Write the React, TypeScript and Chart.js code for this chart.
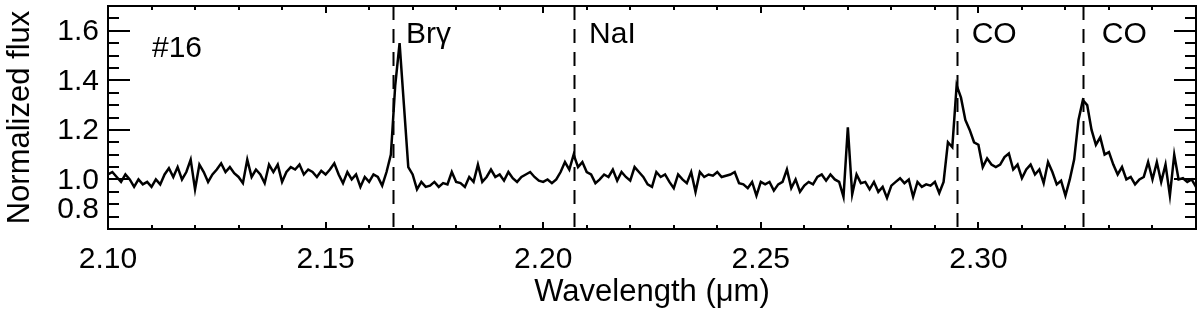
import React, { useEffect, useRef } from "react";
import { Chart, registerables } from "chart.js";

Chart.register(...registerables);

// ---- data ----
const WAVELENGTH_START = 2.1; // µm
const WAVELENGTH_STEP = 0.001; // µm per sample
const FLUX = [
  1.02, 1.03, 1.01, 0.99, 1.02, 1.0, 0.97, 1.0, 0.98, 0.99,
  0.97, 1.0, 0.98, 1.02, 1.045, 1.01, 1.05, 1.0, 1.03, 1.08,
  0.96, 1.06, 1.03, 0.99, 1.02, 1.04, 1.065, 1.03, 1.05, 1.025,
  1.01, 0.985, 1.08, 1.01, 1.04, 1.02, 0.985, 1.06, 1.03, 1.06,
  0.99, 1.03, 1.05, 1.04, 1.06, 1.02, 1.04, 1.03, 1.01, 1.035,
  1.02, 1.04, 1.065, 1.02, 0.985, 1.03, 1.0, 1.02, 0.97, 1.01,
  0.99, 1.02, 1.01, 0.975, 1.03, 1.1, 1.38, 1.55, 1.3, 1.05,
  1.02, 0.96, 0.99, 0.97, 0.975, 0.99, 0.97, 0.985, 0.98, 1.03,
  0.99, 0.985, 0.97, 1.01, 0.99, 1.06, 0.99, 1.01, 1.04, 1.01,
  1.02, 0.995, 1.03, 1.005, 0.99, 1.01, 1.02, 1.03, 1.01, 0.995,
  0.99, 1.0, 0.985, 1.0, 1.03, 1.07, 1.04, 1.1, 1.05, 1.07,
  1.03, 1.02, 0.985, 1.0, 1.02, 1.01, 1.04, 0.995, 1.03, 1.01,
  0.995, 1.05, 1.03, 1.01, 0.98, 0.97, 1.03, 1.01, 1.02, 0.99,
  0.965, 1.02, 1.0, 0.985, 1.03, 0.95, 1.03, 1.01, 1.02, 1.015,
  1.03, 1.01, 1.015, 1.02, 1.03, 0.985, 0.98, 0.965, 0.99, 0.935,
  0.99, 0.98, 0.99, 0.955, 0.98, 0.99, 1.04, 0.965, 1.0, 0.95,
  0.975, 0.99, 0.98, 1.01, 1.02, 0.995, 1.02, 1.0, 0.99, 0.93,
  1.21, 0.94, 1.02, 0.985, 0.99, 0.96, 0.99, 0.95, 0.97, 0.925,
  0.975, 0.99, 1.005, 0.985, 1.0, 0.93, 0.99, 0.97, 0.98, 0.975,
  0.99, 0.945, 0.99, 1.15, 1.13, 1.38, 1.33, 1.24, 1.2, 1.15,
  1.14, 1.05, 1.085, 1.06, 1.05, 1.06, 1.09, 1.105, 1.04, 1.06,
  1.005, 1.04, 1.06, 1.02, 1.04, 0.985, 1.07, 1.03, 0.98, 0.995,
  0.935, 1.0, 1.08, 1.24, 1.32, 1.3, 1.2, 1.14, 1.17, 1.1,
  1.11, 1.06, 1.02, 1.05, 1.0, 1.01, 0.98, 1.0, 1.01, 1.07,
  1.0, 1.07, 0.99, 1.06, 0.935, 1.1, 1.0, 1.005, 0.99, 1.0,
  0.97,
];

const X_MIN = 2.1;
const X_MAX = 2.35;
const Y_MIN = 0.8;
const Y_MAX = 1.7;
const X_TICK_LABELS = ["2.10", "2.15", "2.20", "2.25", "2.30"];
const Y_TICK_LABELS = ["0.8", "1.0", "1.2", "1.4", "1.6"];
const LINE_NAMES = ["Br\u03b3", "NaI", "CO", "CO"];
const LINE_WAVELENGTHS = [2.1655, 2.2071, 2.295, 2.324];
const OBJECT_LABEL = "#16";
const X_TITLE = "Wavelength (\u03bcm)";
const Y_TITLE = "Normalized flux";

const FONT_FAMILY = "'Liberation Sans', Arial, Helvetica, sans-serif";
const NAME_OFFSETS = [13, 15, 15, 19];

const idlPlugin = {
  id: "idlFrame",
  afterDraw(chart: any) {
    const { ctx, chartArea: a, scales } = chart;
    const xs = scales.x;
    const ys = scales.y;
    ctx.save();
    ctx.strokeStyle = "#000";
    ctx.fillStyle = "#000";

    // dashed line markers
    ctx.lineWidth = 2;
    ctx.setLineDash([14, 9]);
    LINE_WAVELENGTHS.forEach((w) => {
      const px = Math.round(xs.getPixelForValue(w)) + 0.5;
      ctx.beginPath();
      ctx.moveTo(px, a.top);
      ctx.lineTo(px, a.bottom);
      ctx.stroke();
    });
    ctx.setLineDash([]);

    // line names
    ctx.font = `30px ${FONT_FAMILY}`;
    ctx.textAlign = "left";
    ctx.textBaseline = "alphabetic";
    LINE_NAMES.forEach((name, i) => {
      const px = xs.getPixelForValue(LINE_WAVELENGTHS[i]);
      ctx.fillText(name, px + NAME_OFFSETS[i], 43);
    });
    ctx.fillText(OBJECT_LABEL, a.left + 44, 57);

    // frame
    ctx.lineWidth = 2;
    ctx.strokeRect(a.left, a.top, a.right - a.left, a.bottom - a.top);

    // ticks (inward on all four sides)
    const nx = Math.round((X_MAX - X_MIN) / 0.01);
    for (let i = 0; i <= nx; i++) {
      const px = Math.round(xs.getPixelForValue(X_MIN + i * 0.01));
      const len = i % 5 === 0 ? 7 : 4;
      ctx.fillRect(px - 1, a.bottom - len, 2, len);
      ctx.fillRect(px - 1, a.top, 2, len);
    }
    const ny = Math.round((Y_MAX - Y_MIN) / 0.05);
    for (let i = 0; i <= ny; i++) {
      const py = Math.round(ys.getPixelForValue(Y_MIN + i * 0.05));
      const len = i % 4 === 0 ? 22 : 11;
      ctx.fillRect(a.left, py - 1, len, 2);
      ctx.fillRect(a.right - len, py - 1, len, 2);
    }

    // y tick labels
    ctx.font = `30px ${FONT_FAMILY}`;
    ctx.textAlign = "right";
    ctx.textBaseline = "middle";
    Y_TICK_LABELS.forEach((lab) => {
      const v = parseFloat(lab);
      let py = ys.getPixelForValue(v);
      if (Math.abs(v - Y_MIN) < 1e-9) py -= 20;
      ctx.fillText(lab, a.left - 9, py + 1);
    });
    ctx.restore();
  },
};

export default function App() {
  const canvasRef = useRef<HTMLCanvasElement | null>(null);

  useEffect(() => {
    if (!canvasRef.current) return;
    Chart.defaults.font.family = FONT_FAMILY;
    Chart.defaults.color = "#000";
    const points = FLUX.map((f, i) => ({
      x: WAVELENGTH_START + i * WAVELENGTH_STEP,
      y: f,
    }));
    const chart = new Chart(canvasRef.current, {
      type: "line",
      data: {
        datasets: [
          {
            data: points,
            borderColor: "#000",
            borderWidth: 2.5,
            pointRadius: 0,
            tension: 0,
            fill: false,
          },
        ],
      },
      options: {
        responsive: false,
        animation: false,
        devicePixelRatio: 1,
        layout: { padding: { top: 6, right: 4, left: 0, bottom: 0 } },
        plugins: {
          legend: { display: false },
          tooltip: { enabled: false },
        },
        scales: {
          x: {
            type: "linear",
            min: X_MIN,
            max: X_MAX,
            grid: { display: false, drawTicks: false },
            border: { display: false },
            ticks: {
              stepSize: 0.05,
              autoSkip: false,
              maxRotation: 0,
              padding: 13,
              color: "#000",
              font: { size: 30 },
              callback: (v: any) => {
                const s = Number(v).toFixed(2);
                return X_TICK_LABELS.includes(s) ? s : "";
              },
            },
            title: {
              display: true,
              text: X_TITLE,
              color: "#000",
              font: { size: 31 },
              padding: { top: 0, bottom: 6 },
            },
            afterFit: (scale: any) => {
              scale.height = 88;
              scale.paddingLeft = 0;
              scale.paddingRight = 0;
            },
          },
          y: {
            type: "linear",
            min: Y_MIN,
            max: Y_MAX,
            grid: { display: false, drawTicks: false },
            border: { display: false },
            ticks: { display: false },
            title: {
              display: true,
              text: Y_TITLE,
              color: "#000",
              font: { size: 31 },
              padding: { top: 2, bottom: 0 },
            },
            afterFit: (scale: any) => {
              scale.width = 108;
              scale.paddingTop = 0;
              scale.paddingBottom = 0;
            },
          },
        },
      },
      plugins: [idlPlugin],
    });
    return () => chart.destroy();
  }, []);

  return (
    <div
      style={{
        position: "absolute",
        left: 0,
        top: 0,
        width: 1200,
        height: 317,
        background: "#fff",
      }}
    >
      <canvas
        ref={canvasRef}
        width={1200}
        height={317}
        style={{ display: "block", width: 1200, height: 317 }}
      />
    </div>
  );
}
